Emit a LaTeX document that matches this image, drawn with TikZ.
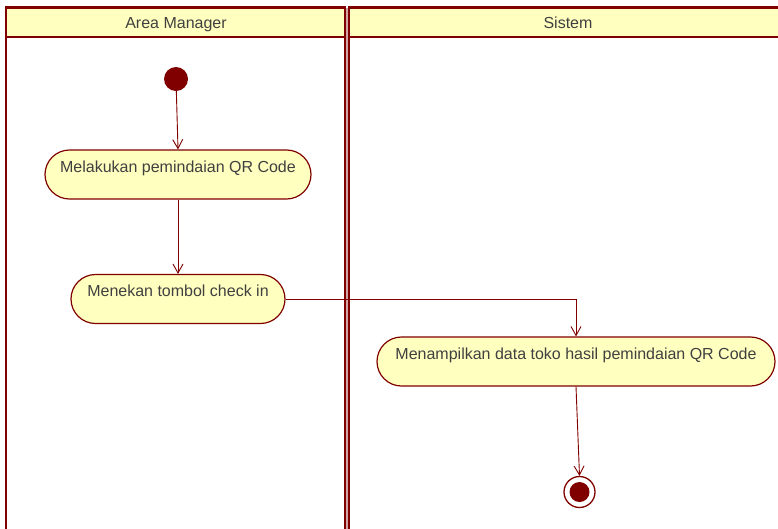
\documentclass[tikz,border=0pt]{standalone}
\usepackage{fontspec}
\setmainfont{Liberation Sans}
\usetikzlibrary{arrows.meta,shapes.misc}
\definecolor{umlred}{RGB}{128,0,0}
\definecolor{umlfill}{RGB}{255,255,192}
\definecolor{umltext}{RGB}{64,64,64}
\begin{document}
\begin{tikzpicture}[x=1pt,y=-1pt,
  lane/.style={draw=umlred,line width=2.4pt},
  header/.style={draw=umlred,line width=2.2pt,fill=umlfill},
  lanetitle/.style={text=umltext,font=\fontsize{16}{19}\selectfont,
    text height=12pt,text depth=3.5pt,inner sep=0pt},
  action/.style={rounded rectangle,draw=umlred,line width=1.2pt,fill=umlfill,
    text=umltext,font=\fontsize{16}{19}\selectfont,minimum height=49pt,
    inner xsep=0pt,text height=12pt,text depth=17pt},
  startnode/.style={circle,fill=umlred,minimum size=24pt,inner sep=0pt},
  endring/.style={circle,draw=umlred,line width=1.3pt,fill=white,minimum size=31pt,inner sep=0pt},
  flow/.style={draw=umlred,line width=0.9pt,-{Straight Barb[length=9pt,width=10pt]}}
]
\useasboundingbox (0,0) rectangle (778,528);
\clip (0,0) rectangle (778,528);
\fill[white] (0,0) rectangle (778,528);

% swimlanes: a double rule separates the two partitions
\fill[umlred!35] (345,7.5) rectangle (349,560);
\draw[lane] (6,7.5) -- (6,560);
\draw[lane] (345.2,7.5) -- (345.2,560);
\draw[lane] (348.8,7.5) -- (348.8,560);
\draw[header] (6,7.5) rectangle (345.2,37);
\draw[header] (348.8,7.5) rectangle (800,37);
\node[lanetitle] (laneA) at (176,24) {Area Manager};
\node[lanetitle] (laneS) at (568,24) {Sistem};

% activity nodes
\node[startnode] (start) at (176,79) {};
\node[action,minimum width=266pt] (a1) at (178,174.5) {Melakukan pemindaian QR Code};
\node[action,minimum width=214pt] (a2) at (178,299) {Menekan tombol check in};
\node[action,minimum width=398pt] (a3) at (576,361.5) {Menampilkan data toko hasil pemindaian QR Code};
\node[endring] (end) at (579.5,492) {};
\node[circle,fill=umlred,minimum size=20pt,inner sep=0pt] (endcore) at (end) {};

% control flows
\draw[flow] (start) -- (a1.north);
\draw[flow] (a1.south) -- (a2.north);
\draw[flow] (a2.east) -| (a3.north);
\draw[flow] (a3.south) -- (end.north);
\end{tikzpicture}
\end{document}
